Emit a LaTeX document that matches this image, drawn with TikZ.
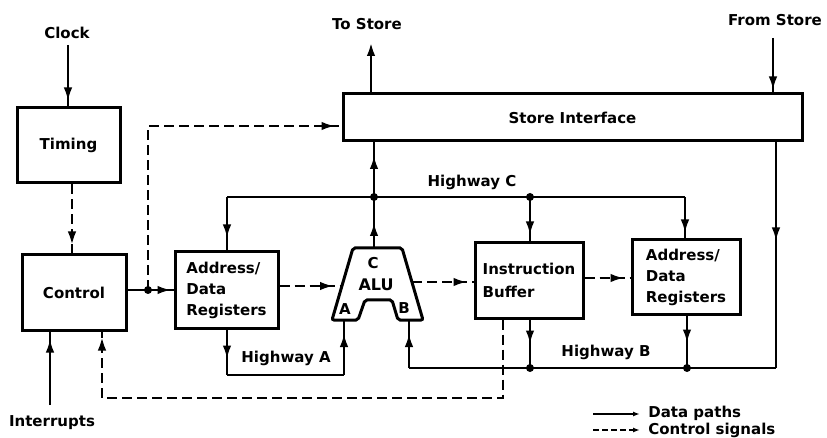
\documentclass[tikz,border=0pt]{standalone}
\usepackage{fontspec}
\setmainfont{DejaVu Sans}
\usetikzlibrary{arrows.meta,decorations.markings,calc}
\begin{document}
\begin{tikzpicture}[x=1pt,y=-1pt,
  font=\fontsize{15}{21}\selectfont\bfseries,
  line width=2.8pt,
  box/.style={draw,rectangle,line width=3pt,inner sep=0pt},
  ctl/.style={dash pattern=on 10pt off 5pt},
  arr/.style={postaction={decorate},decoration={markings,mark=at position #1 with {\arrow{Latex[length=14pt,width=8.5pt]}}}},
  arr/.default=-6pt,
  jdot/.style={circle,fill,inner sep=0pt,minimum size=8pt},
  lbl/.style={inner sep=1pt}
]
\fill[white] (0,0) rectangle (827,438);
\useasboundingbox (0,0) rectangle (827,438);

% ---------- boxes ----------
\node[box,minimum width=103pt,minimum height=75pt] (timing) at (68.5,145.5) {Timing};
\node[box,minimum width=104pt,minimum height=75pt] (control) at (74,292.5) {Control};
\node[box,minimum width=459pt,minimum height=47pt] (store) at (572.5,117.5) {Store Interface};
\node[box,minimum width=103pt,minimum height=76pt,align=left] (addr1) at (226.5,290) {Address/\\Data\\Registers};
\node[box,minimum width=108pt,minimum height=75pt,align=left,font=\fontsize{15}{23}\selectfont\bfseries] (instr) at (529,280.5) {Instruction\\Buffer};
\node[box,minimum width=108pt,minimum height=74pt,align=left] (addr2) at (686,277) {Address/\\Data\\Registers};

% ---------- ALU ----------
\coordinate (a1) at (353,248);
\coordinate (a2) at (402,248);
\coordinate (a3) at (423,320);
\coordinate (a4) at (398,320);
\coordinate (a5) at (392,300);
\coordinate (a6) at (365,300);
\coordinate (a7) at (358,320);
\coordinate (a8) at (332,320);
\draw[line width=3pt,rounded corners=2pt] (a1)--(a2)--(a3)--(a4)--(a5)--(a6)--(a7)--(a8)--cycle;
\node[lbl] (aluC) at (373,263) {C};
\node[lbl,font=\fontsize{16}{18}\selectfont\bfseries] (alu) at (376,285) {ALU};
\node[lbl] (aluA) at (345,309) {A};
\node[lbl] (aluB) at (404,308) {B};
\coordinate (aluTop) at (374,248);
\coordinate (aluInA) at (344,320);
\coordinate (aluInB) at (409,320);
\coordinate (aluL) at (342,286);
\coordinate (aluR) at (412,282);

% ---------- outside labels ----------
\node[lbl] (clock) at (67,33) {Clock};
\node[lbl] (tostore) at (367,24) {To Store};
\node[lbl] (fromstore) at (775,20) {From Store};
\node[lbl] (intr) at (52,423) {Interrupts};
\node[lbl] (hwC) at (472,182) {Highway C};
\node[lbl] (hwA) at (286,358) {Highway A};
\node[lbl] (hwB) at (606,352) {Highway B};

% ---------- clock / timing / control ----------
\coordinate (ck) at (68,45);
\draw[arr=-5pt] (ck) -- (timing.north -| ck);
\coordinate (tc) at (72,0);
\draw[ctl,arr=-8pt] (timing.south -| tc) -- (control.north -| tc);

\coordinate (j1) at (148,290);
\coordinate (j1t) at (148,126);
\draw (control.east |- j1) -- (j1);
\draw[arr=-2pt] (j1) -- (addr1.west |- j1);
\draw[ctl,arr=-6pt] (j1) -- (j1t) -- (store.west |- j1t);
\node[jdot] at (j1) {};

% ---------- store connections ----------
\coordinate (tsTop) at (371,42);
\draw[-{Latex[length=14pt,width=8.5pt]}] (store.north -| tsTop) -- (tsTop);
\coordinate (fs) at (773,38);
\draw[arr=-2pt] (fs) -- (store.north -| fs);

% ---------- Highway C ----------
\coordinate (hcL) at (227,197);
\coordinate (hcR) at (685,197);
\coordinate (hcJ1) at (374,197);
\coordinate (hcJ2) at (530,197);
\draw (hcL) -- (hcR);
\draw[arr=-12pt] (hcL) -- (addr1.north -| hcL);
\draw[arr=-6pt] (hcJ2) -- (instr.north -| hcJ2);
\draw[arr=-5pt] (hcR) -- (addr2.north -| hcR);
\draw[arr=26pt] (aluTop) -- (hcJ1);
\draw[arr=42pt] (hcJ1) -- (store.south -| hcJ1);
\node[jdot] at (hcJ1) {};
\node[jdot] at (hcJ2) {};

% ---------- control signal paths ----------
\draw[ctl,arr=-8pt] (addr1.east |- aluL) -- (aluL);
\draw[ctl,arr=-6pt] (aluR) -- (instr.west |- aluR);
\coordinate (ia) at (600,278);
\draw[ctl,arr=-6pt] (instr.east |- ia) -- (addr2.west |- ia);

% ---------- Highway A ----------
\coordinate (haL) at (227,375);
\coordinate (haR) at (344,375);
\draw[arr=30pt] (addr1.south -| haL) -- (haL);
\draw (haL) -- (haR);
\draw[arr=42pt] (haR) -- (aluInA);

% ---------- Highway B ----------
\coordinate (hbL) at (409,368);
\coordinate (hbR) at (776,368);
\coordinate (hbJ1) at (530,368);
\coordinate (hbJ2) at (687,368);
\draw[arr=99pt] (store.south -| hbR) -- (hbR);
\draw (hbR) -- (hbL);
\draw[arr=35pt] (hbL) -- (aluInB);
\draw[arr=25pt] (instr.south -| hbJ1) -- (hbJ1);
\draw[arr=28pt] (addr2.south -| hbJ2) -- (hbJ2);
\node[jdot] at (hbJ1) {};
\node[jdot] at (hbJ2) {};

% ---------- feedback and interrupts ----------
\coordinate (fb1) at (503,398);
\coordinate (fb2) at (102,398);
\draw[ctl,arr=-5pt] (instr.south -| fb1) -- (fb1) -- (fb2) -- (control.south -| fb2);
\coordinate (ib) at (50,405);
\draw[arr=-7pt] (ib) -- (control.south -| ib);

% ---------- legend ----------
\node[lbl,anchor=west] (lg1) at (646,413) {Data paths};
\node[lbl,anchor=west] (lg2) at (646,430) {Control signals};
\coordinate (l1) at (593,414);
\coordinate (l2) at (593,430);
\draw[line width=2pt,-{Latex[length=7pt,width=5pt]},shorten >=6pt] (l1) -- (lg1.west |- l1);
\draw[line width=2pt,dash pattern=on 6pt off 3pt,-{Latex[length=7pt,width=5pt]},shorten >=6pt] (l2) -- (lg2.west |- l2);
\end{tikzpicture}
\end{document}
